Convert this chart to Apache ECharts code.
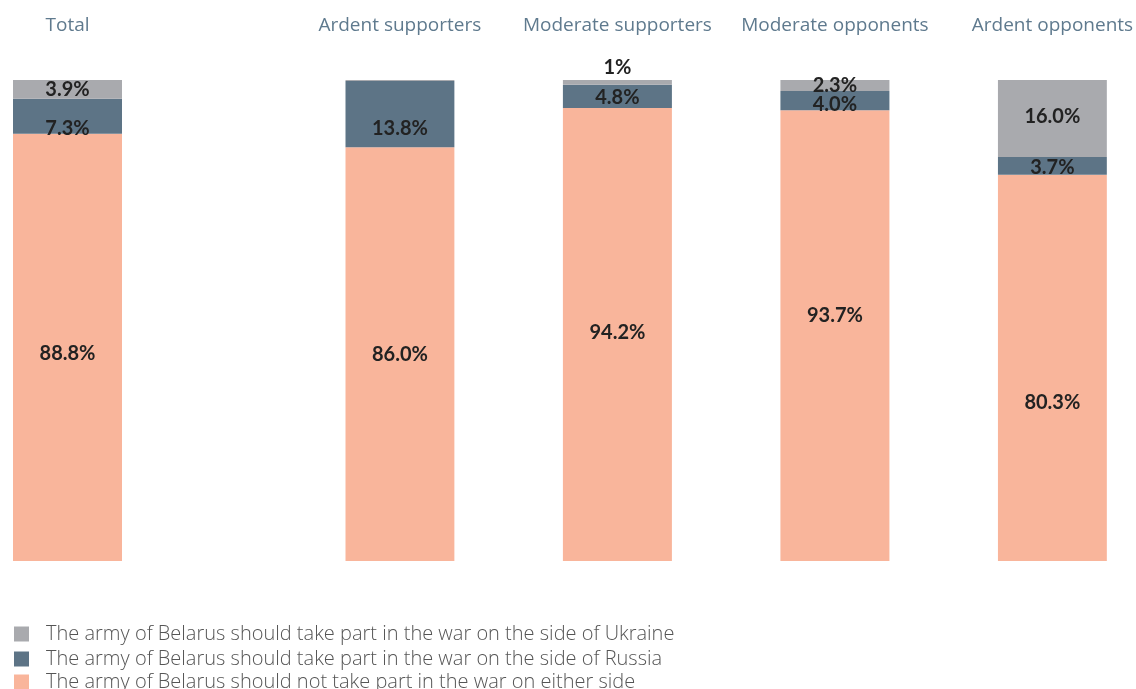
<!DOCTYPE html>
<html>
<head>
<meta charset="utf-8">
<script src="https://cdn.jsdelivr.net/npm/echarts@6/dist/echarts.min.js"></script>
<style>html,body{margin:0;padding:0;background:#fff;}#c{width:1136px;height:689px;}</style>
</head>
<body>
<div id="c"></div>
<script>
var groups = ['Total', 'Ardent supporters', 'Moderate supporters', 'Moderate opponents', 'Ardent opponents'];
var ukraine = [3.9, 0.2, 1, 2.3, 16.0];
var russia = [7.3, 13.8, 4.8, 4.0, 3.7];
var neither = [88.8, 86.0, 94.2, 93.7, 80.3];
var ukraineLabels = ['3.9%', '', '1%', '2.3%', '16.0%'];
var russiaLabels = ['7.3%', '13.8%', '4.8%', '4.0%', '3.7%'];
var neitherLabels = ['88.8%', '86.0%', '94.2%', '93.7%', '80.3%'];
var seriesNames = [
  'The army of Belarus should take part in the war on the side of Ukraine',
  'The army of Belarus should take part in the war on the side of Russia',
  'The army of Belarus should not take part in the war on either side'
];
var colors = ['#a9aaae', '#5d7486', '#f9b59b'];
// vertical nudges of the value labels (style only)
var ukraineNudge = [0, 0, 0, 0, -2];
var russiaNudge = [12, 14, 1, 4, 2];
var neitherNudge = [6, 0, -2, -20, 35];

var chart = echarts.init(document.getElementById('c'));
var labelBase = {show: true, position: 'inside', color: '#222', fontFamily: 'Lato', fontWeight: 'bold', fontSize: 20};

// grid 0 holds "Total"; grid 1 holds the four groups with an empty slot between each
var gridIdx = [[0], [1, -1, 2, -1, 3, -1, 4]];

function mkData(vals, labels, nudges, idxs, topIdx) {
  return idxs.map(function (i) {
    if (i < 0) return '-';
    var lbl = labels[i];
    var item = {value: vals[i], label: {formatter: lbl, show: lbl !== '', offset: [0, nudges[i]]}};
    if (topIdx && topIdx.indexOf(i) >= 0) { item.label.position = 'top'; item.label.distance = 2; }
    return item;
  });
}

var series = [];
gridIdx.forEach(function (idxs, g) {
  series.push({name: seriesNames[2], type: 'bar', stack: 's' + g, xAxisIndex: g, yAxisIndex: g, barWidth: 109,
    itemStyle: {color: colors[2]}, label: labelBase, data: mkData(neither, neitherLabels, neitherNudge, idxs)});
  series.push({name: seriesNames[1], type: 'bar', stack: 's' + g, xAxisIndex: g, yAxisIndex: g, barWidth: 109,
    itemStyle: {color: colors[1]}, label: labelBase, data: mkData(russia, russiaLabels, russiaNudge, idxs)});
  series.push({name: seriesNames[0], type: 'bar', stack: 's' + g, xAxisIndex: g, yAxisIndex: g, barWidth: 109,
    itemStyle: {color: colors[0]}, label: labelBase, data: mkData(ukraine, ukraineLabels, ukraineNudge, idxs, [2])});
});

var axisLabelStyle = {color: '#5f7a8e', fontFamily: 'Open Sans', fontSize: 19, margin: 45, interval: 0};
var cats = gridIdx.map(function (idxs) { return idxs.map(function (i) { return i < 0 ? '' : groups[i]; }); });

function legendFor(k, top) {
  return {
    orient: 'vertical', left: 9, top: top, itemWidth: 15, itemHeight: 15, icon: 'rect',
    data: [seriesNames[k]],
    textStyle: {color: '#555', fontFamily: 'Open Sans', fontWeight: 300, fontSize: 20, padding: [0, 0, 0, 12]}
  };
}

chart.setOption({
  animation: false,
  backgroundColor: '#fff',
  grid: [
    {left: 13, width: 109, top: 80, height: 481},
    {left: 345.5, width: 763, top: 80, height: 481}
  ],
  xAxis: [
    {type: 'category', gridIndex: 0, position: 'top', data: cats[0], axisLine: {show: false}, axisTick: {show: false}, axisLabel: axisLabelStyle},
    {type: 'category', gridIndex: 1, position: 'top', data: cats[1], axisLine: {show: false}, axisTick: {show: false}, axisLabel: axisLabelStyle}
  ],
  yAxis: [
    {type: 'value', gridIndex: 0, min: 0, max: 100, show: false},
    {type: 'value', gridIndex: 1, min: 0, max: 100, show: false}
  ],
  legend: [legendFor(0, 619), legendFor(1, 644), legendFor(2, 667)],
  series: series
});
</script>
</body>
</html>
